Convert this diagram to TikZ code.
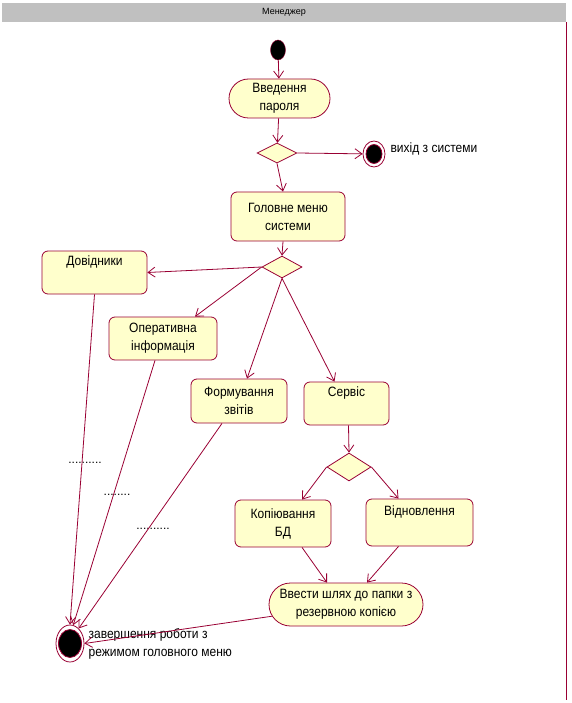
\documentclass[tikz,border=0pt]{standalone}
\usepackage{fontspec}
\setmainfont{Liberation Sans}
\newfontfamily\umlfont[FakeStretch=0.89]{Liberation Sans}
\usetikzlibrary{positioning,shapes.geometric,shapes.misc,arrows.meta}
\definecolor{umlred}{RGB}{153,0,51}
\definecolor{umlfill}{RGB}{255,255,204}
\definecolor{lanegray}{RGB}{192,192,192}
\tikzset{
	action/.style={draw=umlred, fill=umlfill, rounded corners=6pt, align=center, inner sep=2pt, line width=0.8pt, font=\umlfont\fontsize{13.5}{18}\selectfont},
	pill/.style={draw=umlred, fill=umlfill, rounded rectangle, align=center, inner sep=2pt, line width=0.8pt, font=\umlfont\fontsize{13.5}{18}\selectfont},
	choice/.style={draw=umlred, fill=umlfill, diamond, inner sep=0pt, line width=0.8pt},
	startdot/.style={ellipse, draw=umlred, fill=black, inner sep=0pt, minimum width=15pt, minimum height=20pt},
	enddot/.style n args={2}{ellipse, draw=umlred, fill=white, inner sep=0pt, line width=0.8pt,
		path picture={\filldraw[fill=black, draw=umlred] (path picture bounding box.center) ellipse [x radius=#1, y radius=#2];}},
	flow/.style={draw=umlred, line width=0.8pt, -{Straight Barb[length=7pt,width=10pt]}},
	note/.style={font=\umlfont\fontsize{13.5}{18}\selectfont, align=left, inner sep=0pt},
	dotrow/.style={font=\fontsize{12}{14}\selectfont, inner sep=0pt},
	lane/.style={fill=lanegray, minimum width=564pt, minimum height=19pt, inner sep=0pt, font=\fontsize{9}{10}\selectfont},
}
\begin{document}
\begin{tikzpicture}[x=1pt, y=-1pt]
	\useasboundingbox (0,0) rectangle (572,703);
	\node[lane] (lane) at (284,12.5) {Менеджер};
	\draw[umlred, line width=0.8pt] (lane.south east) -- ++(0,678);
	
	\node[startdot] (init) at (278,50) {};
	\node[pill, minimum width=105pt, minimum height=39pt] (pass) at (279.5,98.5) {Введення\\пароля};
	\node[choice, minimum width=40pt, minimum height=20pt] (d1) at (277,153) {};
	\node[enddot={8pt}{9.5pt}, minimum width=22pt, minimum height=26pt] (exit) at (374,154) {};
	\node[note, right=5pt of exit, yshift=5pt] (exitlabel) {вихід з системи};
	\node[action, minimum width=114pt, minimum height=49pt] (menu) at (288,216.5) {Головне меню\\системи};
	\node[choice, minimum width=40pt, minimum height=22pt] (d2) at (282,267) {};
	\node[action, minimum width=105pt, minimum height=43pt] (dovid) at (94.5,272.5) {Довідники\\ \strut};
	\node[action, minimum width=108pt, minimum height=43pt] (oper) at (163,338.5) {Оперативна\\інформація};
	\node[action, minimum width=96pt, minimum height=44pt] (zvit) at (239,401) {Формування\\звітів};
	\node[action, minimum width=85pt, minimum height=43pt] (servis) at (346.5,403.5) {Сервіс\\ \strut};
	\node[choice, minimum width=44pt, minimum height=28pt] (d3) at (349,467) {};
	\node[action, minimum width=96pt, minimum height=47pt] (kopia) at (283,523.5) {Копіювання\\БД};
	\node[action, minimum width=107pt, minimum height=47pt] (vidnov) at (419.5,522.5) {Відновлення\\ \strut};
	\node[pill, minimum width=158pt, minimum height=43pt] (shlyah) at (346,604.5) {Ввести шлях до папки з\\резервною копією};
	\node[enddot={11.5pt}{14pt}, minimum width=28pt, minimum height=37pt] (final) at (70,643.5) {};
	\node[note, right=4pt of final] (finallabel) {завершення роботи з\\режимом головного меню};
	\node[dotrow] (dots1) at (85,463) {..........};
	\node[dotrow] (dots2) at (117,495) {........};
	\node[dotrow] (dots3) at (153,529) {..........};
	
	\draw[flow] (init) -- (pass);
	\draw[flow] (pass) -- (d1);
	\draw[flow] (d1.east) -- (exit);
	\draw[flow] (d1.south) -- ([xshift=-5pt]menu.north);
	\draw[flow] ([xshift=-5pt]menu.south) -- (d2.north);
	\draw[flow] (d2.west) -- (dovid.east);
	\draw[flow] (d2.west) -- ([xshift=32pt]oper.north);
	\draw[flow] (d2.south) -- ([xshift=8pt]zvit.north);
	\draw[flow] (d2.south) -- ([xshift=-12pt]servis.north);
	\draw[flow] ([xshift=2pt]servis.south) -- (d3.north);
	\draw[flow] (d3.west) -- ([xshift=19pt]kopia.north);
	\draw[flow] (d3.east) -- ([xshift=-21pt]vidnov.north);
	\draw[flow] ([xshift=19pt]kopia.south) -- ([xshift=-19pt]shlyah.north);
	\draw[flow] ([xshift=-21pt]vidnov.south) -- ([xshift=21pt]shlyah.north);
	\draw[flow] (shlyah.189) -- (final.east);
	\draw[flow] (dovid.south) -- (final.north);
	\draw[flow] ([xshift=-8pt]oper.south) -- (final.80);
	\draw[flow] ([xshift=-17pt]zvit.south) -- (final.60);
\end{tikzpicture}
\end{document}
